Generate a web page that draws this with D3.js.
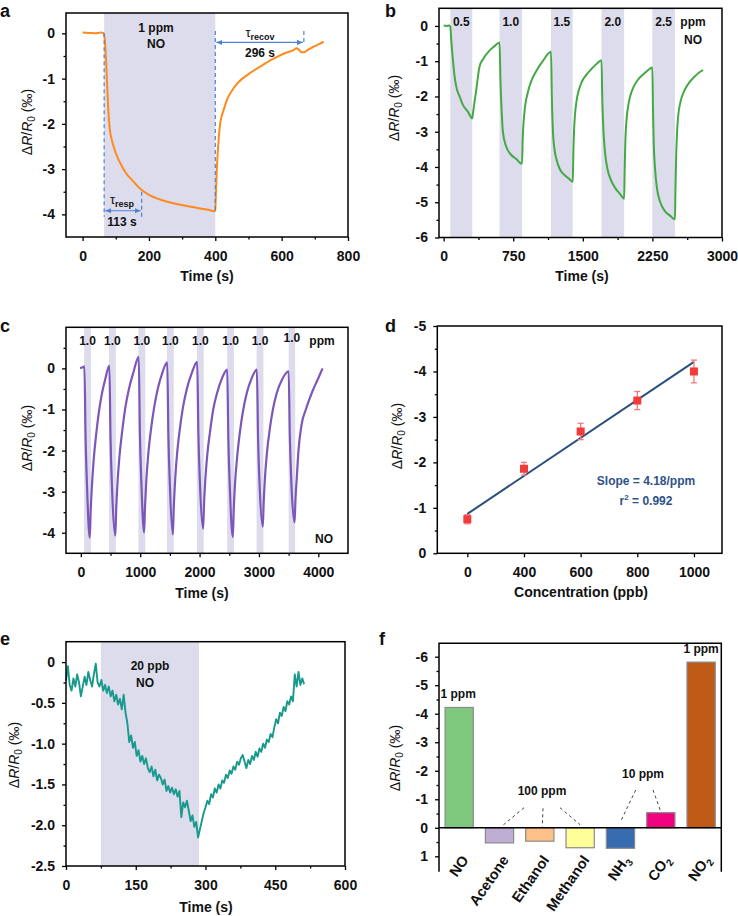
<!DOCTYPE html>
<html><head><meta charset="utf-8">
<script src="https://cdn.jsdelivr.net/npm/d3@7"></script>
<style>
body{margin:0;background:#fff}
svg{display:block}
</style></head><body>
<svg id="chart" width="738" height="916"></svg>
<script>
// ---------------- DATA ----------------
// Panel a: 1 ppm NO response
const aTime = [0,20,40,55,63,66,69,72,75,78,82,87,93,103,113,130,153,173,200,233,270,303,354,380,397,400,402,405,409,415,425,435,450,467,500,536,570,606,625,636,645,652,660,667,680,697,712,727];
const aVal  = [0.02,0.01,0.0,0.02,0.01,-0.08,-0.35,-0.8,-1.3,-1.75,-2.12,-2.32,-2.49,-2.7,-2.86,-3.08,-3.27,-3.43,-3.57,-3.67,-3.75,-3.8,-3.87,-3.9,-3.93,-3.92,-3.5,-2.94,-2.45,-1.98,-1.7,-1.47,-1.27,-1.1,-0.9,-0.73,-0.58,-0.45,-0.4,-0.37,-0.33,-0.36,-0.42,-0.42,-0.36,-0.29,-0.24,-0.18];
const aGasOn = 65, aGasOff = 400, aRespEnd = 178, aRecovEnd = 667;

// Panel b: 0.5 - 2.5 ppm NO
const bConc = ["0.5","1.0","1.5","2.0","2.5"];
const bOn  = [72,602,1157,1701,2249];
const bOff = [308,845,1390,1945,2493];
const bTime = [0,30,60,72,82,100,118,136,172,208,261,308,
  312,333,351,387,423,494,545,602,
  613,627,638,674,710,781,845,
  852,870,906,942,996,1068,1157,
  1166,1178,1195,1218,1250,1300,1350,1392,
  1398,1405,1416,1434,1459,1492,1540,1600,1650,1701,
  1711,1723,1740,1765,1800,1850,1900,1945,
  1951,1958,1970,1987,2012,2047,2090,2140,2195,2249,
  2257,2265,2277,2299,2335,2385,2440,2493,
  2498,2504,2514,2528,2553,2588,2640,2700,2750,2796];
const bVal = [0.01,0.0,0.01,-0.02,-0.4,-0.96,-1.43,-1.72,-2.0,-2.24,-2.43,-2.62,
  -2.55,-2.15,-1.82,-1.15,-0.95,-0.7,-0.58,-0.47,
  -1.62,-2.5,-2.99,-3.42,-3.6,-3.77,-3.91,
  -3.22,-2.47,-1.9,-1.58,-1.29,-1.0,-0.73,
  -2.0,-3.0,-3.5,-3.8,-4.05,-4.22,-4.33,-4.42,
  -3.6,-3.0,-2.5,-2.1,-1.8,-1.57,-1.38,-1.2,-1.07,-0.97,
  -2.2,-3.0,-3.6,-4.05,-4.35,-4.6,-4.76,-4.9,
  -4.1,-3.3,-2.7,-2.3,-1.98,-1.73,-1.54,-1.4,-1.27,-1.18,
  -2.5,-3.4,-4.0,-4.6,-5.0,-5.25,-5.38,-5.48,
  -4.7,-3.9,-3.1,-2.55,-2.15,-1.87,-1.63,-1.45,-1.33,-1.25];

// Panel c: repeated 1.0 ppm cycles
const cConc = ["1.0","1.0","1.0","1.0","1.0","1.0","1.0","1.0"];
const cOn  = [55,475,970,1450,1955,2465,2960,3500];
const cOff = [170,590,1085,1565,2070,2580,3075,3610];
const cTime = [-10,20,60, 80,105,150, 165,185,215,255,300,350,410,480,
  500,525,580, 595,615,650,695,750,810,885,975,
  995,1020,1065, 1080,1100,1135,1180,1235,1295,1370,1455,
  1475,1500,1550, 1565,1585,1620,1665,1720,1785,1865,1960,
  1980,2005,2060, 2075,2095,2130,2175,2230,2295,2375,2465,
  2485,2510,2560, 2575,2595,2630,2675,2730,2795,2875,2965,
  2985,3010,3065, 3080,3100,3135,3180,3235,3300,3390,3500,
  3520,3545,3600, 3615,3640,3666,3720,3790,3850,3903,3990,4072];
const cVal = [0.0,0.02,0.05, -1.7,-2.9,-4.12, -3.5,-2.9,-2.25,-1.65,-1.1,-0.65,-0.27,0.07,
  -1.7,-2.9,-4.07, -3.45,-2.85,-2.15,-1.55,-0.95,-0.5,-0.1,0.28,
  -1.6,-2.8,-3.99, -3.4,-2.8,-2.1,-1.5,-0.95,-0.5,-0.12,0.15,
  -1.65,-2.85,-4.04, -3.4,-2.8,-2.1,-1.5,-0.95,-0.5,-0.13,0.16,
  -1.6,-2.75,-3.9, -3.3,-2.75,-2.1,-1.55,-1.0,-0.6,-0.25,-0.03,
  -1.75,-2.9,-4.1, -3.45,-2.85,-2.2,-1.6,-1.05,-0.6,-0.25,-0.03,
  -1.7,-2.8,-3.85, -3.25,-2.7,-2.05,-1.5,-1.0,-0.6,-0.27,-0.07,
  -1.65,-2.75,-3.75, -3.2,-2.6,-2.0,-1.35,-1.0,-0.75,-0.55,-0.27,0.0];

// Panel d: calibration
const dConc = [200,400,600,800,1000];
const dVal  = [-0.75,-1.86,-2.68,-3.36,-4.0];
const dErr  = [0.1,0.14,0.18,0.2,0.25];
const dSlope = 4.18, dIntercept = -0.03, dR2 = "0.992";
const dTickLabels = ["0","400","600","800","1000"];

// Panel e: 20 ppb NO (sampled every 4 s)
const eTime = d3.range(0, 513, 4);
const eVal = [
  -0.22,-0.05,-0.28,-0.35,-0.2,-0.3,-0.15,-0.25,-0.42,-0.3,
  -0.18,-0.28,-0.12,-0.22,-0.3,-0.15,-0.02,-0.25,-0.3,-0.22,
  -0.35,-0.28,-0.38,-0.3,-0.42,-0.35,-0.48,-0.4,-0.52,-0.45,
  -0.58,-0.4,-0.62,-0.75,-0.98,-0.9,-1.05,-0.98,-1.15,-1.08,
  -1.22,-1.15,-1.25,-1.18,-1.3,-1.35,-1.28,-1.4,-1.32,-1.45,
  -1.38,-1.42,-1.5,-1.44,-1.58,-1.52,-1.6,-1.54,-1.62,-1.56,
  -1.65,-1.58,-1.9,-1.72,-1.78,-1.7,-1.82,-1.95,-1.88,-2.02,
  -1.96,-2.15,-2.05,-1.95,-1.85,-1.78,-1.7,-1.74,-1.62,-1.66,
  -1.55,-1.6,-1.5,-1.55,-1.45,-1.48,-1.38,-1.42,-1.33,-1.37,
  -1.28,-1.32,-1.22,-1.26,-1.18,-1.14,-1.22,-1.3,-1.2,-1.25,
  -1.15,-1.2,-1.1,-1.16,-1.06,-1.1,-1.0,-1.05,-0.95,-0.98,
  -0.88,-0.92,-0.8,-0.7,-0.75,-0.62,-0.66,-0.55,-0.6,-0.48,
  -0.52,-0.42,-0.48,-0.15,-0.3,-0.12,-0.28,-0.2,-0.27];
const eOn = 75, eOff = 286;

// Panel f: selectivity
const fGas  = ["NO","Acetone","Ethanol","Methanol","NH3","CO2","NO2"];
const fMain = ["NO","Acetone","Ethanol","Methanol","NH","CO","NO"];
const fSub  = ["","","","","3","2","2"];
const fVal  = [-4.22,0.53,0.47,0.7,0.72,-0.53,-5.81];
const fColor = d3.schemeAccent;

// ---------------- DRAWING ----------------
const F = '"Liberation Sans", Arial, Helvetica, sans-serif';
const SHADE = "#dcdcec";
const svg = d3.select("#chart").attr("font-family", F);

const defs = svg.append("defs");
defs.append("marker").attr("id","arr").attr("viewBox","0 0 8 8").attr("refX",8).attr("refY",4)
  .attr("markerWidth",6).attr("markerHeight",6).attr("markerUnits","userSpaceOnUse").attr("orient","auto-start-reverse")
  .append("path").attr("d","M0,0.5 L8,4 L0,7.5 Z").attr("fill","#4f82d6");

function panel(c){
  const g = svg.append("g");
  const x = c.band ? c.band : d3.scaleLinear().domain(c.xd).range([c.L, c.R]);
  const y = d3.scaleLinear().domain(c.yd).range([c.B, c.T]);
  return {g, x, y, c};
}
function shade(p, on, off){
  p.g.append("g").selectAll("rect").data(on).join("rect")
    .attr("x", d => p.x(d)).attr("width", (d,i) => p.x(off[i]) - p.x(d))
    .attr("y", p.c.T).attr("height", p.c.B - p.c.T).attr("fill", SHADE);
}
function drawLine(p, xs, ys, color, w, curve){
  const data = xs.map((t,i) => [t, ys[i]]);
  p.g.append("path").datum(data)
    .attr("d", d3.line().x(d => p.x(d[0])).y(d => p.y(d[1])).curve(curve || d3.curveMonotoneX))
    .attr("fill","none").attr("stroke",color).attr("stroke-width",w).attr("stroke-linejoin","round");
}
function box(p){
  p.g.append("rect").attr("x",p.c.L).attr("y",p.c.T).attr("width",p.c.R-p.c.L).attr("height",p.c.B-p.c.T)
    .attr("fill","none").attr("stroke","#000").attr("stroke-width",1.5);
}
function styleAxis(a){
  a.attr("font-family",F).attr("font-size",14).attr("font-weight","bold");
  a.select(".domain").remove();
  a.selectAll(".tick line").attr("stroke","#000").attr("stroke-width",1.3);
  a.selectAll(".tick text").attr("fill","#111");
}
function xAxis(p, ticks, labels, minor){
  const a = p.g.append("g").attr("transform",`translate(0,${p.c.B})`)
    .call(d3.axisBottom(p.x).tickValues(ticks).tickSize(4).tickPadding(10).tickFormat((d,i) => labels[i]));
  styleAxis(a);
  if (minor){
    const m = p.g.append("g").attr("transform",`translate(0,${p.c.B})`)
      .call(d3.axisBottom(p.x).tickValues(minor).tickSize(2.5).tickFormat(""));
    styleAxis(m);
  }
}
function yAxis(p, ticks, labels, minor){
  const a = p.g.append("g").attr("transform",`translate(${p.c.L},0)`)
    .call(d3.axisLeft(p.y).tickValues(ticks).tickSize(4).tickPadding(7).tickFormat((d,i) => labels[i]));
  styleAxis(a);
  if (minor){
    const m = p.g.append("g").attr("transform",`translate(${p.c.L},0)`)
      .call(d3.axisLeft(p.y).tickValues(minor).tickSize(2.5).tickFormat(""));
    styleAxis(m);
  }
}
function yLabel(cx, cy){
  const t = svg.append("text").attr("transform",`translate(${cx},${cy}) rotate(-90)`)
    .attr("text-anchor","middle").attr("dominant-baseline","central")
    .attr("font-size",14).attr("fill","#111");
  t.append("tspan").text("Δ");
  t.append("tspan").attr("font-style","italic").text("R");
  t.append("tspan").text("/");
  t.append("tspan").attr("font-style","italic").text("R");
  t.append("tspan").attr("font-size",10).attr("dy",4).text("0");
  t.append("tspan").attr("dy",-4).text(" (‰)");
}
function text(x, y, s, size, opts){
  opts = opts || {};
  return svg.append("text").attr("x",x).attr("y",y).attr("text-anchor",opts.anchor || "middle")
    .attr("font-size",size).attr("font-weight",opts.weight || "bold").attr("fill",opts.color || "#111").text(s);
}
function letter(s, x, y){ text(x, y, s, 18, {anchor:"start"}); }

// ===== Panel a =====
{
  const p = panel({L:66, R:348, T:13, B:237, xd:[-50,800], yd:[-4.5,0.45]});
  shade(p, [aGasOn], [aGasOff]);
  drawLine(p, aTime, aVal, "#ff8a1c", 2);
  const dash = (x1,y1,x2,y2) => p.g.append("line").attr("x1",p.x(x1)).attr("x2",p.x(x2)).attr("y1",p.y(y1)).attr("y2",p.y(y2))
    .attr("stroke","#4f82d6").attr("stroke-width",1.2).attr("stroke-dasharray","4,3");
  dash(aGasOn, 0, aGasOn, -4.05);
  dash(aRespEnd, -3.5, aRespEnd, -4.05);
  dash(aGasOff, 0.05, aGasOff, -3.93);
  dash(aRecovEnd, 0.05, aRecovEnd, -0.25);
  const arrow = (x1,x2,yv) => p.g.append("line").attr("x1",p.x(x1)+1).attr("x2",p.x(x2)-1).attr("y1",p.y(yv)).attr("y2",p.y(yv))
    .attr("stroke","#4f82d6").attr("stroke-width",1.2).attr("marker-start","url(#arr)").attr("marker-end","url(#arr)");
  arrow(aGasOn, aRespEnd, -3.92);
  arrow(aGasOff, aRecovEnd, -0.2);
  box(p);
  xAxis(p, [0,200,400,600,800], ["0","200","400","600","800"], [100,300,500,700]);
  yAxis(p, [0,-1,-2,-3,-4], ["0","-1","-2","-3","-4"], [-0.5,-1.5,-2.5,-3.5]);
  text(156, 32, "1 ppm", 12);
  text(156, 48, "NO", 12);
  const tr = svg.append("text").attr("x",260).attr("y",37).attr("text-anchor","middle").attr("fill","#111");
  tr.append("tspan").attr("font-size",13).text("τ");
  tr.append("tspan").attr("font-size",9).attr("font-weight","bold").attr("dy",3).text("recov");
  text(260, 57, "296 s", 12);
  const tp = svg.append("text").attr("x",122).attr("y",204).attr("text-anchor","middle").attr("fill","#111");
  tp.append("tspan").attr("font-size",13).text("τ");
  tp.append("tspan").attr("font-size",9).attr("font-weight","bold").attr("dy",3).text("resp");
  text(122, 226, "113 s", 12);
  yLabel(27, 122);
  text(207, 281, "Time (s)", 14);
  letter("a", 0, 17);
}

// ===== Panel b =====
{
  const p = panel({L:439, R:722, T:8.3, B:237.5, xd:[-50,3000], yd:[-6,0.5]});
  shade(p, bOn, bOff);
  drawLine(p, bTime, bVal, "#45a845", 2);
  box(p);
  xAxis(p, [0,750,1500,2250,3000], ["0","750","1500","2250","3000"], [375,1125,1875,2625]);
  yAxis(p, [0,-1,-2,-3,-4,-5,-6], ["0","-1","-2","-3","-4","-5","-6"], [-0.5,-1.5,-2.5,-3.5,-4.5,-5.5]);
  bConc.forEach((s,i) => text(p.x((bOn[i]+bOff[i])/2), 26, s, 12));
  text(693, 26, "ppm", 12);
  text(693, 44, "NO", 12);
  yLabel(394, 108);
  text(582, 281, "Time (s)", 14);
  letter("b", 385, 17);
}

// ===== Panel c =====
{
  const p = panel({L:66, R:348, T:327.3, B:553.3, xd:[-250,4500], yd:[-4.5,1.0]});
  shade(p, cOn, cOff);
  drawLine(p, cTime, cVal, "#7c56b8", 2.2);
  box(p);
  xAxis(p, [0,1000,2000,3000,4000], ["0","1000","2000","3000","4000"], [500,1500,2500,3500]);
  yAxis(p, [0,-1,-2,-3,-4], ["0","-1","-2","-3","-4"], [0.5,-0.5,-1.5,-2.5,-3.5]);
  cConc.forEach((s,i) => text(p.x((cOn[i]+cOff[i])/2), i === 7 ? 342 : 345, s, 12));
  text(322, 345, "ppm", 12);
  text(324, 543, "NO", 12);
  yLabel(27, 438);
  text(202, 598, "Time (s)", 14);
  letter("c", 0, 332);
}

// ===== Panel d =====
{
  const p = panel({L:437.3, R:722, T:326, B:553.3, xd:[94,1099], yd:[0,-5]});
  box(p);
  const fitX = [dConc[0], dConc[dConc.length-1]];
  p.g.append("line").attr("x1",p.x(fitX[0])).attr("x2",p.x(fitX[1]))
    .attr("y1",p.y(dIntercept - dSlope*fitX[0]/1000)).attr("y2",p.y(dIntercept - dSlope*fitX[1]/1000))
    .attr("stroke","#2a4f7e").attr("stroke-width",2);
  const eb = p.g.append("g").attr("stroke","#f47a7a").attr("stroke-width",1.3);
  dConc.forEach((c,i) => {
    const xx = p.x(c), y1 = p.y(dVal[i]-dErr[i]), y2 = p.y(dVal[i]+dErr[i]);
    eb.append("line").attr("x1",xx).attr("x2",xx).attr("y1",y1).attr("y2",y2);
    eb.append("line").attr("x1",xx-3).attr("x2",xx+3).attr("y1",y1).attr("y2",y1);
    eb.append("line").attr("x1",xx-3).attr("x2",xx+3).attr("y1",y2).attr("y2",y2);
  });
  p.g.selectAll("rect.pt").data(dConc).join("rect").attr("class","pt")
    .attr("x",d => p.x(d)-4).attr("y",(d,i) => p.y(dVal[i])-4).attr("width",8).attr("height",8).attr("fill","#f23b3b");
  xAxis(p, dConc, dTickLabels, null);
  yAxis(p, [0,-1,-2,-3,-4,-5], ["0","-1","-2","-3","-4","-5"], [-0.5,-1.5,-2.5,-3.5,-4.5]);
  text(646, 485, `Slope = ${dSlope}/ppm`, 12, {color:"#2e5288"});
  const r = svg.append("text").attr("x",646).attr("y",505).attr("text-anchor","middle").attr("font-size",12)
    .attr("font-weight","bold").attr("fill","#2e5288");
  r.append("tspan").text("r");
  r.append("tspan").attr("font-size",8).attr("dy",-5).text("2");
  r.append("tspan").attr("dy",5).text(` = ${dR2}`);
  yLabel(397, 436);
  text(581, 597, "Concentration (ppb)", 14);
  letter("d", 385, 332);
}

// ===== Panel e =====
{
  const p = panel({L:66, R:345, T:641.7, B:866, xd:[0,600], yd:[-2.5,0.25]});
  shade(p, [eOn], [eOff]);
  drawLine(p, eTime, eVal, "#17998c", 1.9, d3.curveLinear);
  box(p);
  xAxis(p, [0,150,300,450,600], ["0","150","300","450","600"], [75,225,375,525]);
  yAxis(p, [0,-0.5,-1,-1.5,-2,-2.5], ["0","-0.5","-1.0","-1.5","-2.0","-2.5"], [-0.25,-0.75,-1.25,-1.75,-2.25]);
  text(150, 670, "20 ppb", 12);
  text(145, 687, "NO", 12);
  yLabel(14, 755);
  text(206, 912, "Time (s)", 14);
  letter("e", 0, 645);
}

// ===== Panel f =====
{
  const band = d3.scaleBand().domain(fGas).range([439, 721.3]).paddingInner(0.3).paddingOuter(0.15);
  const p = panel({L:439, R:721.3, T:643.3, B:871.7, band: band, yd:[1.54,-6.47]});
  const bw = band.bandwidth();
  p.g.selectAll("rect.bar").data(fGas).join("rect").attr("class","bar")
    .attr("x", d => band(d)).attr("width", bw)
    .attr("y", (d,i) => Math.min(p.y(0), p.y(fVal[i])))
    .attr("height", (d,i) => Math.abs(p.y(fVal[i]) - p.y(0)))
    .attr("fill", (d,i) => fColor[i]).attr("stroke","#8a8a8a").attr("stroke-width",1.2);
  p.g.append("line").attr("x1",p.c.L).attr("x2",p.c.R).attr("y1",p.y(0)).attr("y2",p.y(0)).attr("stroke","#000").attr("stroke-width",1.5);
  p.g.append("path").attr("d",`M${p.c.L},${p.c.B}V${p.c.T}H${p.c.R}V${p.c.B}`).attr("fill","none").attr("stroke","#000").attr("stroke-width",1.5);
  yAxis(p, [-6,-5,-4,-3,-2,-1,0,1], ["-6","-5","-4","-3","-2","-1","0","1"], [-5.5,-4.5,-3.5,-2.5,-1.5,-0.5,0.5]);
  const cx = d => band(d) + bw/2;
  text(cx("NO")-1, 698, "1 ppm", 12);
  text(cx("NO2"), 653, "1 ppm", 12);
  text(542, 795, "100 ppm", 12);
  text(643, 778, "10 ppm", 12);
  const dl = (x1,y1,x2,y2) => p.g.append("line").attr("x1",x1).attr("y1",y1).attr("x2",x2).attr("y2",y2)
    .attr("stroke","#444").attr("stroke-width",1).attr("stroke-dasharray","3,3");
  dl(524, 807.7, cx("Acetone")+4, p.y(0)-3);
  dl(543, 808.3, cx("Ethanol")+2.5, p.y(0)-1);
  dl(560, 807.7, cx("Methanol"), p.y(0)-3);
  dl(635.7, 790, cx("NH3"), p.y(0)-6);
  dl(653, 790, cx("CO2"), p.y(fVal[5])-1);
  fGas.forEach((d,i) => {
    const t = svg.append("text").attr("transform",`translate(${cx(d)+10},860) rotate(-55)`)
      .attr("text-anchor","end").attr("font-size",14.5).attr("font-weight","bold").attr("fill","#111");
    t.append("tspan").text(fMain[i]);
    if (fSub[i]) t.append("tspan").attr("font-size",10).attr("dy",4).text(fSub[i]);
  });
  yLabel(395, 758);
  letter("f", 379, 645);
}
</script>
</body></html>
